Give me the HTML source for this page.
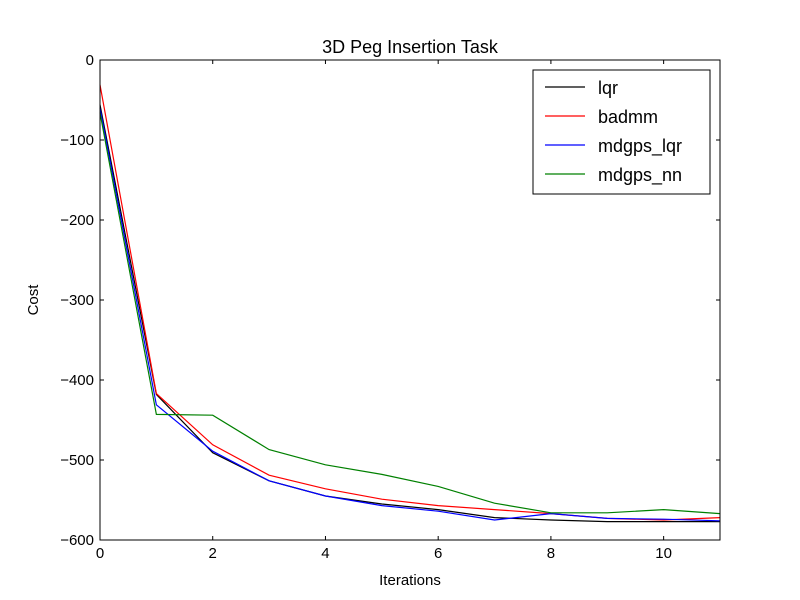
<!DOCTYPE html>
<html><head><meta charset="utf-8"><style>
body{margin:0;background:#fff}
svg{display:block;font-family:"Liberation Sans","DejaVu Sans",sans-serif}
</style></head><body>
<svg id="chart" width="800" height="600">
<rect width="800" height="600" fill="#fff"/>
<g id="plot"></g>
</svg>
<script>
const iterations=[0,1,2,3,4,5,6,7,8,9,10,11];
const lqr=[-56,-418,-491,-526,-545,-555,-562,-572,-575,-577,-577,-577];
const badmm=[-31,-417,-481,-519,-536,-549,-557,-562,-567,-573,-575,-572];
const mdgpsLqr=[-60,-431,-489,-526,-545,-557,-564,-575,-567,-573,-574,-576];
const mdgpsNn=[-66,-443,-444,-487,-506,-518,-533,-554,-566,-566,-562,-567];
const xTicks=[0,2,4,6,8,10];
const yTicks=[0,-100,-200,-300,-400,-500,-600];
const seriesNames=["lqr","badmm","mdgps_lqr","mdgps_nn"];
const seriesData=[lqr,badmm,mdgpsLqr,mdgpsNn];
const colors=["#000000","#ff0000","#0000ff","#008000"];
const L=100,R=720,T=60,B=540;
const x=v=>L+(v-0)/11*(R-L);
const y=v=>T+(0-v)/600*(B-T);
const NS="http://www.w3.org/2000/svg";
const g=document.getElementById('plot');
function mk(t,a,p){const e=document.createElementNS(NS,t);for(const k in a)e.setAttribute(k,a[k]);(p||g).appendChild(e);return e;}
seriesData.forEach((d,si)=>{
 const pts=d.map((v,i)=>x(iterations[i])+","+y(v)).join(" ");
 const l=mk('polyline',{points:pts,fill:'none',stroke:colors[si],'stroke-width':1.2});
 
 
});
const frame=mk('rect',{x:L,y:T,width:R-L,height:B-T,fill:'none',stroke:'#000','stroke-width':1});


xTicks.forEach(v=>{
 const px=x(v);
 mk('line',{x1:px,x2:px,y1:B,y2:B-4,stroke:'#000'});
 mk('line',{x1:px,x2:px,y1:T,y2:T+4,stroke:'#000'});
 const t=mk('text',{x:px,y:B+18,'text-anchor':'middle','font-size':15});
 t.textContent=v;
 
 
});
yTicks.forEach(v=>{
 const py=y(v);
 mk('line',{x1:L,x2:L+4,y1:py,y2:py,stroke:'#000'});
 mk('line',{x1:R,x2:R-4,y1:py,y2:py,stroke:'#000'});
 const t=mk('text',{x:L-6,y:py+5,'text-anchor':'end','font-size':15});
 t.textContent=v===0?"0":"\u2212"+(-v);
 
 
});
const title=mk('text',{x:410,y:53,'text-anchor':'middle','font-size':18});
title.textContent="3D Peg Insertion Task";


const xl=mk('text',{x:410,y:585,'text-anchor':'middle','font-size':15});
xl.textContent="Iterations";


const yl=mk('text',{x:38,y:300,'text-anchor':'middle','font-size':15,transform:'rotate(-90 38 300)'});
yl.textContent="Cost";


const lg=mk('g',{});


mk('rect',{x:533,y:70,width:177,height:124,fill:'#fff',stroke:'#000','stroke-width':1},lg);
seriesNames.forEach((n,i)=>{
 const cy=87+i*29;
 const ln=mk('line',{x1:545,x2:585,y1:cy,y2:cy,stroke:colors[i],'stroke-width':1.2},lg);
 
 
 const t=mk('text',{x:598,y:cy+7,'font-size':18},lg);
 t.textContent=n;
 
 
});
</script>
</body></html>
